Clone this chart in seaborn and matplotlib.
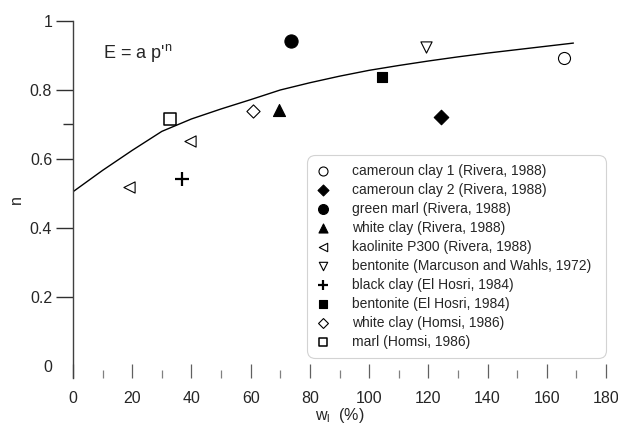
#plot.py
#compressibility exponent n against liquid limit w_l

import matplotlib.pyplot as plt
import matplotlib.ticker as mticker
import seaborn as sns

#data
names = [
    'cameroun clay 1 (Rivera, 1988)',
    'cameroun clay 2 (Rivera, 1988)',
    'green marl (Rivera, 1988)',
    'white clay (Rivera, 1988)',
    'kaolinite P300 (Rivera, 1988)',
    'bentonite (Marcuson and Wahls, 1972)',
    'black clay (El Hosri, 1984)',
    'bentonite (El Hosri, 1984)',
    'white clay (Homsi, 1986)',
    'marl (Homsi, 1986)',
]
wl_values = [[165.8], [124.2], [73.6], [69.4], [39.5, 19.0], [119.2], [36.7], [104.2], [60.7], [32.8]]
n_values = [[0.893], [0.723], [0.943], [0.742], [0.653, 0.520], [0.925], [0.541], [0.838], [0.739], [0.715]]

#fitted curve E = a p'^n
curve_wl = [0, 10, 20, 30, 40, 50, 60, 70, 80, 90, 100, 110, 120, 130, 140, 150, 160, 169]
curve_n = [0.505, 0.567, 0.625, 0.680, 0.716, 0.745, 0.772, 0.800, 0.821, 0.840,
           0.857, 0.871, 0.884, 0.896, 0.907, 0.917, 0.927, 0.936]

#marker styles (symbol, filled)
markers = ['o', 'D', 'o', '^', '<', 'v', '+', 's', 'D', 's']
filled = [False, True, True, True, False, False, True, True, False, False]
sizes = [75, 55, 90, 75, 65, 65, 110, 60, 45, 65]

sns.set_style('white')
plt.rcParams['font.family'] = ['Liberation Sans', 'DejaVu Sans']

fig = plt.figure(figsize=(6.18, 4.23), dpi=100)
ax = fig.add_axes([73 / 618, 1 - 378 / 423, 533 / 618, 357 / 423])

#fitted line
sns.lineplot(x=curve_wl, y=curve_n, color='black', lw=1.0, sort=False, ax=ax)

#each soil as its own scatter series
for name, xs, ys, m, f, s in zip(names, wl_values, n_values, markers, filled, sizes):
    if m == '+':
        sns.scatterplot(x=xs, y=ys, marker=m, s=s, color='black', linewidth=1.6, label=name, ax=ax)
    elif f:
        sns.scatterplot(x=xs, y=ys, marker=m, s=s, color='black', edgecolor='black',
                        linewidth=0.8, label=name, ax=ax)
    else:
        sns.scatterplot(x=xs, y=ys, marker=m, s=s, facecolor='white', edgecolor='black',
                        linewidth=1.1 if m == 's' else 0.8, label=name, ax=ax)

ax.set_xlim(0, 180)
ax.set_ylim(-0.035, 1)

#axes look
for side in ['top', 'right', 'bottom']:
    ax.spines[side].set_visible(False)
ax.spines['left'].set_color('#404040')
ax.spines['left'].set_linewidth(1.0)

ax.xaxis.set_major_locator(mticker.MultipleLocator(20))
ax.xaxis.set_minor_locator(mticker.MultipleLocator(10))
ax.yaxis.set_major_locator(mticker.FixedLocator([0, 0.2, 0.4, 0.6, 0.8, 1.0]))
ax.yaxis.set_minor_locator(mticker.FixedLocator([0.7]))
ax.yaxis.set_major_formatter(mticker.FuncFormatter(lambda v, p: '%g' % round(v, 1)))

ax.tick_params(axis='x', which='major', direction='in', length=10, width=0.9, color='#606060',
               bottom=True, labelsize=11.5, pad=9)
ax.tick_params(axis='x', which='minor', direction='in', length=6, width=0.9, color='#808080', bottom=True)
ax.tick_params(axis='y', which='major', direction='out', length=12, width=1.0, color='#303030',
               left=True, labelsize=11.5, pad=3)
ax.tick_params(axis='y', which='minor', direction='out', length=7, width=1.0, color='#303030', left=True)
ax.yaxis.get_major_ticks()[0].tick1line.set_visible(False)

ax.set_xlabel('$\\mathregular{w_l}$  (%)', fontsize=11.5, labelpad=0)
ax.set_ylabel('n', fontsize=11.5, labelpad=4)

ax.text(10.0, 0.907, "E = a p'$^{\\mathregular{n}}$", fontsize=13, ha='left', va='center')

#legend
leg = ax.legend(loc='upper left', bbox_to_anchor=(0.439, 0.073, 0.561, 0.552), mode='expand',
                fontsize=10, frameon=True, fancybox=True, labelspacing=0.36,
                handlelength=1.0, handletextpad=1.6, borderpad=0.65, borderaxespad=0,
                markerscale=0.75)
leg.get_frame().set_edgecolor('#c8c8c8')
leg.get_frame().set_linewidth(0.8)
leg.get_frame().set_boxstyle('round', pad=0, rounding_size=0.6)

plt.savefig('out.png', dpi=100)
